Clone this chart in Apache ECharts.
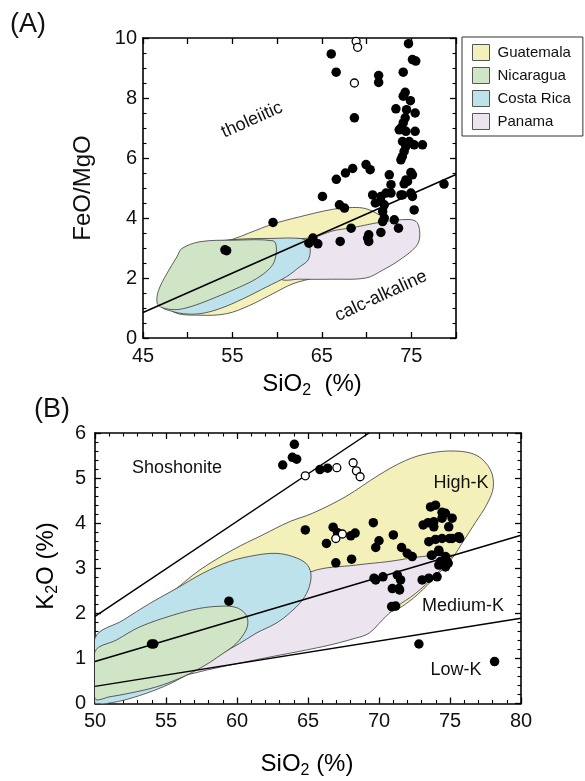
<!DOCTYPE html>
<html>
<head>
<meta charset="utf-8">
<script src="https://cdn.jsdelivr.net/npm/echarts@6/dist/echarts.min.js"></script>
<style>
  html, body { margin: 0; padding: 0; background: #fff; }
  #chart { width: 585px; height: 781px; }
</style>
</head>
<body>
<div id="chart"></div>
<script>
// Two stacked discrimination diagrams: (A) FeO/MgO vs SiO2, (B) K2O vs SiO2.

const countries = ['Guatemala', 'Nicaragua', 'Costa Rica', 'Panama'];

// ---- panel A: FeO/MgO vs SiO2 ----
const feoTickLabels = [45, 55, 65, 75];
const feoGuatemala = [[48.41,0.87],[51.38,0.76],[54.35,0.81],[56.95,1.09],[59.54,1.48],[61.77,1.81],[64.37,2.04],[68.08,2.59],[71.79,3.37],[72.16,3.87],[71.42,4.10],[69.93,4.31],[68.45,4.35],[66.22,4.29],[62.51,4.04],[59.54,3.80],[56.95,3.51],[54.91,3.28],[51.38,3.04],[48.78,2.26],[47.67,1.37]];
const feoNicaragua = [[49.34,2.98],[51.38,3.21],[55.09,3.26],[59.54,3.24],[59.91,3.04],[59.73,2.59],[59.17,2.32],[57.69,1.98],[55.83,1.70],[53.24,1.37],[51.38,1.15],[49.53,0.98],[48.23,0.95],[46.93,1.04],[46.56,1.20],[46.74,1.59],[47.67,2.15],[48.78,2.70]];
const feoCostaRica = [[47.11,1.04],[47.67,1.37],[49.53,2.59],[51.38,3.09],[55.09,3.28],[59.54,3.32],[62.51,3.32],[63.44,3.21],[63.70,2.93],[63.44,2.59],[62.51,2.37],[61.03,2.04],[58.80,1.70],[56.20,1.31],[53.61,0.98],[51.38,0.81],[49.53,0.81],[48.23,0.89]];
const feoPanama = [[60.29,1.98],[59.73,2.59],[59.73,3.15],[61.03,3.28],[64.0,3.35],[66.22,3.57],[68.45,3.68],[71.79,3.87],[74.75,3.95],[75.68,3.84],[75.94,3.37],[75.50,3.04],[73.64,2.59],[71.79,2.26],[69.93,2.00],[66.22,1.96],[62.51,1.96]];
const feoDivide = [[45, 0.85], [80, 5.45]];
const feoFilled = [[66.05,9.47],[66.6,8.86],[68.64,7.34],[71.35,8.75],[71.35,8.52],[74.69,9.81],[75.13,9.28],[75.5,9.23],[74.1,8.86],[74.32,8.19],[74.1,8.06],[74.9,7.91],[73.28,7.64],[74.47,7.61],[75.43,7.5],[74.32,7.34],[74.1,7.17],[73.84,7.0],[73.65,6.94],[74.4,6.89],[75.43,6.89],[74.02,6.55],[74.77,6.55],[75.32,6.44],[76.25,6.44],[74.4,6.39],[74.2,6.22],[74.0,6.05],[73.84,5.94],[69.94,5.78],[70.4,5.61],[68.45,5.65],[67.64,5.5],[66.62,5.29],[65.07,4.72],[72.54,5.44],[74.96,5.52],[75.13,5.44],[74.58,5.22],[74.2,5.14],[72.73,5.11],[72.17,4.83],[72.73,4.83],[70.68,4.77],[71.61,4.72],[74.02,4.77],[74.96,4.83],[66.97,4.44],[67.53,4.33],[70.98,4.5],[71.6,4.55],[71.98,4.44],[71.8,4.22],[74.4,5.27],[73.84,4.77],[75.13,4.72],[75.32,4.27],[71.8,3.88],[71.98,4.0],[73.1,3.94],[73.57,3.66],[68.27,3.66],[71.6,3.52],[70.24,3.44],[70.12,3.33],[70.24,3.22],[67.05,3.22],[64.0,3.33],[63.55,3.16],[64.55,3.14],[59.54,3.85],[54.16,2.94],[54.35,2.91],[78.66,5.13]];
const feoOpen = [[68.83,9.89],[69.0,9.69],[68.64,8.5]];

// ---- panel B: K2O vs SiO2 ----
const k2oGuatemala = [[55.61,2.52],[57.37,2.96],[59.71,3.41],[61.81,3.74],[63.68,4.03],[65.32,4.22],[67.66,4.59],[70.0,5.07],[71.87,5.39],[73.51,5.55],[75.39,5.6],[76.9,5.5],[77.85,5.18],[78.05,4.8],[77.6,4.42],[76.8,4.02],[76.0,3.63],[75.15,3.22],[74.1,2.85],[72.69,2.41],[71.52,2.13],[70.9,2.04],[66,1.5],[58,1.1],[54,1.3],[53.2,1.8],[54.8,2.35]];
const k2oNicaragua = [[50,1.15],[51.52,1.41],[53.16,1.70],[55.5,1.96],[57.37,2.11],[59.01,2.16],[59.94,2.13],[60.53,2.01],[60.76,1.85],[60.64,1.63],[59.94,1.33],[59.01,1.11],[57.6,0.82],[55.96,0.56],[54.33,0.37],[52.46,0.23],[51.05,0.15],[50,0.11]];
const k2oCostaRica = [[50,1.45],[51.99,1.85],[53.86,2.22],[55.73,2.55],[57.6,2.89],[59.47,3.15],[61.35,3.29],[62.75,3.33],[63.92,3.26],[64.85,3.11],[65.2,2.89],[65.09,2.59],[64.62,2.30],[63.68,2.0],[62.75,1.78],[61.35,1.56],[60.18,1.33],[58.54,1.04],[56.67,0.67],[54.8,0.37],[52.46,0.11],[50.82,0.0],[50,0.0]];
const k2oPanama = [[50,0.04],[56.67,0.65],[61.35,0.97],[66.02,1.26],[68.36,1.45],[69.3,1.56],[70.23,1.85],[71.17,2.13],[72.57,2.44],[73.98,2.85],[75.03,3.22],[75.15,3.29],[73.04,3.26],[70.7,3.15],[68.36,3.07],[65.2,2.92],[61.35,2.22],[56.67,1.26],[51.99,0.52],[50,0.23]];
const lineShoshonite = [[50, 1.93], [69.3, 6.0]];
const lineHighK = [[50, 0.93], [80, 3.73]];
const lineLowK = [[50, 0.38], [80, 1.89]];
const k2oFilled = [[63.22,5.29],[64.04,5.75],[63.9,5.46],[64.2,5.42],[65.84,5.19],[66.38,5.22],[64.81,3.85],[66.77,3.91],[67.08,3.79],[66.3,3.55],[68.01,3.72],[68.32,3.78],[69.6,4.01],[71.01,3.74],[70.0,3.61],[69.77,3.46],[71.59,3.46],[71.99,3.33],[72.34,3.26],[66.96,3.12],[68.07,3.2],[73.11,3.96],[73.46,4.01],[73.63,4.36],[73.98,4.40],[73.86,4.03],[74.44,4.11],[74.68,4.22],[75.15,4.11],[74.91,3.92],[74.44,4.24],[73.86,3.92],[73.51,3.59],[73.98,3.64],[74.44,3.66],[74.96,3.66],[75.68,3.66],[73.69,3.29],[74.21,3.37],[74.68,3.26],[74.44,3.11],[74.79,3.15],[74.21,3.4],[73.74,3.29],[74.33,3.15],[74.68,3.18],[74.87,3.11],[74.21,3.07],[74.68,3.03],[75.61,3.70],[75.15,3.66],[69.65,2.78],[69.77,2.74],[70.28,2.81],[71.29,2.85],[71.52,2.74],[71.4,2.55],[70.94,2.55],[71.45,2.52],[70.89,2.15],[71.17,2.16],[73.04,2.74],[73.51,2.78],[74.09,2.81],[72.81,1.32],[78.14,0.93],[59.43,2.27],[53.98,1.32],[54.14,1.32]];
const k2oOpen = [[64.81,5.05],[67.03,5.23],[68.18,5.34],[68.41,5.16],[68.67,5.03],[66.96,3.66],[67.42,3.76]];

const FONT = '"Liberation Sans", Arial, Helvetica, sans-serif';
const fillColors = {
  'Guatemala': '#f3f0ba',
  'Nicaragua': '#cfe5c6',
  'Costa Rica': '#bee2ec',
  'Panama': '#ece4ee'
};

function field(name, pts, axis) {
  return {
    type: 'custom', name, xAxisIndex: axis * 2, yAxisIndex: axis * 2,
    clip: true, silent: true, z: 2,
    itemStyle: { color: fillColors[name] },
    data: [pts[0]],
    renderItem: (params, api) => ({
      type: 'polygon',
      shape: { points: pts.map(p => api.coord(p)), smooth: 0.35 },
      style: { fill: fillColors[name], stroke: '#3a3a3a', lineWidth: 0.8 }
    })
  };
}

function refLine(pts, axis) {
  return {
    type: 'line', xAxisIndex: axis * 2, yAxisIndex: axis * 2, data: pts,
    symbol: 'none', silent: true, z: 3,
    lineStyle: { color: '#000', width: 1.5 }
  };
}

function dots(pts, axis, open) {
  return {
    type: 'scatter', xAxisIndex: axis * 2, yAxisIndex: axis * 2, data: pts,
    symbolSize: open ? 8 : 9.5, silent: true, z: 4,
    itemStyle: open ? { color: '#fff', borderColor: '#000', borderWidth: 1.3, opacity: 1 }
                    : { color: '#000', opacity: 1 }
  };
}

const axisLine = { show: true, onZero: false, lineStyle: { color: '#000', width: 1.6 } };
const tick = { show: true, inside: true, length: 6, lineStyle: { color: '#000', width: 1.3 } };
const labelStyle = { color: '#111', fontSize: 20, fontFamily: FONT };

function xAxes(grid, min, max, interval, minorSplit, fmt, margin) {
  const minor = { show: minorSplit > 0, splitNumber: minorSplit || 5, length: 3.5, lineStyle: { color: '#000', width: 1.1 } };
  const base = { type: 'value', gridIndex: grid, min, max, interval, splitLine: { show: false }, axisLine, axisTick: tick, minorTick: minor };
  return [
    Object.assign({}, base, { position: 'bottom', axisLabel: Object.assign({ margin, formatter: fmt }, labelStyle) }),
    Object.assign({}, base, { position: 'top', axisLabel: { show: false } })
  ];
}
function yAxes(grid, min, max, interval, minorSplit, margin) {
  const minor = { show: true, splitNumber: minorSplit, length: 3.5, lineStyle: { color: '#000', width: 1.1 } };
  const base = { type: 'value', gridIndex: grid, min, max, interval, splitLine: { show: false }, axisLine, axisTick: tick, minorTick: minor };
  return [
    Object.assign({}, base, { position: 'left', axisLabel: Object.assign({ margin }, labelStyle) }),
    Object.assign({}, base, { position: 'right', axisLabel: { show: false } })
  ];
}

function richTitle(parts) {
  return {
    text: parts,
    rich: {
      a: { fontSize: 24, fontFamily: FONT, color: '#111', lineHeight: 30 },
      s: { fontSize: 16, fontFamily: FONT, color: '#111', lineHeight: 15, verticalAlign: 'bottom' }
    }
  };
}
function label(x, y, text, size, rot) {
  return {
    type: 'text', x, y, rotation: rot || 0, silent: true, z: 10,
    style: { text, fontSize: size, fontFamily: FONT, fill: '#111', align: 'center', verticalAlign: 'middle' }
  };
}

const chart = echarts.init(document.getElementById('chart'), null, { renderer: 'canvas' });

chart.setOption({
  animation: false,
  backgroundColor: '#fff',
  grid: [
    { left: 143, top: 38, width: 313, height: 300 },
    { left: 95, top: 433, width: 426, height: 270.5 }
  ],
  xAxis: [
    ...xAxes(0, 45, 80, 5, 0, v => feoTickLabels.includes(v) ? String(v) : '', 8),
    ...xAxes(1, 50, 80, 5, 5, v => String(v), 8)
  ],
  yAxis: [
    ...yAxes(0, 0, 10, 2, 4, 6),
    ...yAxes(1, 0, 6, 1, 5, 9)
  ],
  legend: {
    data: countries,
    orient: 'vertical', left: 462, top: 37,
    icon: 'rect', itemWidth: 17, itemHeight: 16, itemGap: 6,
    padding: [7, 12, 6, 10],
    borderColor: '#333', borderWidth: 1,
    itemStyle: { borderColor: '#555', borderWidth: 1 },
    textStyle: { fontSize: 15, fontFamily: FONT, color: '#111', padding: [0, 0, 0, 3] },
    selectedMode: false
  },
  series: [
    field('Guatemala', feoGuatemala, 0),
    field('Panama', feoPanama, 0),
    field('Costa Rica', feoCostaRica, 0),
    field('Nicaragua', feoNicaragua, 0),
    field('Guatemala', k2oGuatemala, 1),
    field('Panama', k2oPanama, 1),
    field('Costa Rica', k2oCostaRica, 1),
    field('Nicaragua', k2oNicaragua, 1),
    refLine(feoDivide, 0),
    refLine(lineShoshonite, 1),
    refLine(lineHighK, 1),
    refLine(lineLowK, 1),
    dots(feoFilled, 0, false),
    dots(feoOpen, 0, true),
    dots(k2oFilled, 1, false),
    dots(k2oOpen, 1, true)
  ],
  graphic: [
    label(28, 25, '(A)', 27),
    label(52, 410, '(B)', 27),
    { type: 'text', x: 83, y: 188, rotation: Math.PI / 2, silent: true,
      style: { text: 'FeO/MgO', fontSize: 24, fontFamily: FONT, fill: '#111', align: 'center', verticalAlign: 'middle' } },
    { type: 'text', x: 312, y: 384, silent: true,
      style: Object.assign(richTitle('{a|SiO}{s|2}{a|  (%)}'), { align: 'center', verticalAlign: 'middle' }) },
    { type: 'text', x: 307, y: 764, silent: true,
      style: Object.assign(richTitle('{a|SiO}{s|2}{a| (%)}'), { align: 'center', verticalAlign: 'middle' }) },
    { type: 'text', x: 46, y: 566, rotation: Math.PI / 2, silent: true,
      style: Object.assign(richTitle('{a|K}{s|2}{a|O (%)}'), { align: 'center', verticalAlign: 'middle' }) },
    label(252, 120, 'tholeiitic', 18, 0.42),
    label(381, 296, 'calc-alkaline', 18, 0.43),
    label(177, 468, 'Shoshonite', 18),
    label(461, 483, 'High-K', 18),
    label(463, 606, 'Medium-K', 18),
    label(456, 670, 'Low-K', 18)
  ]
});
</script>
</body>
</html>
